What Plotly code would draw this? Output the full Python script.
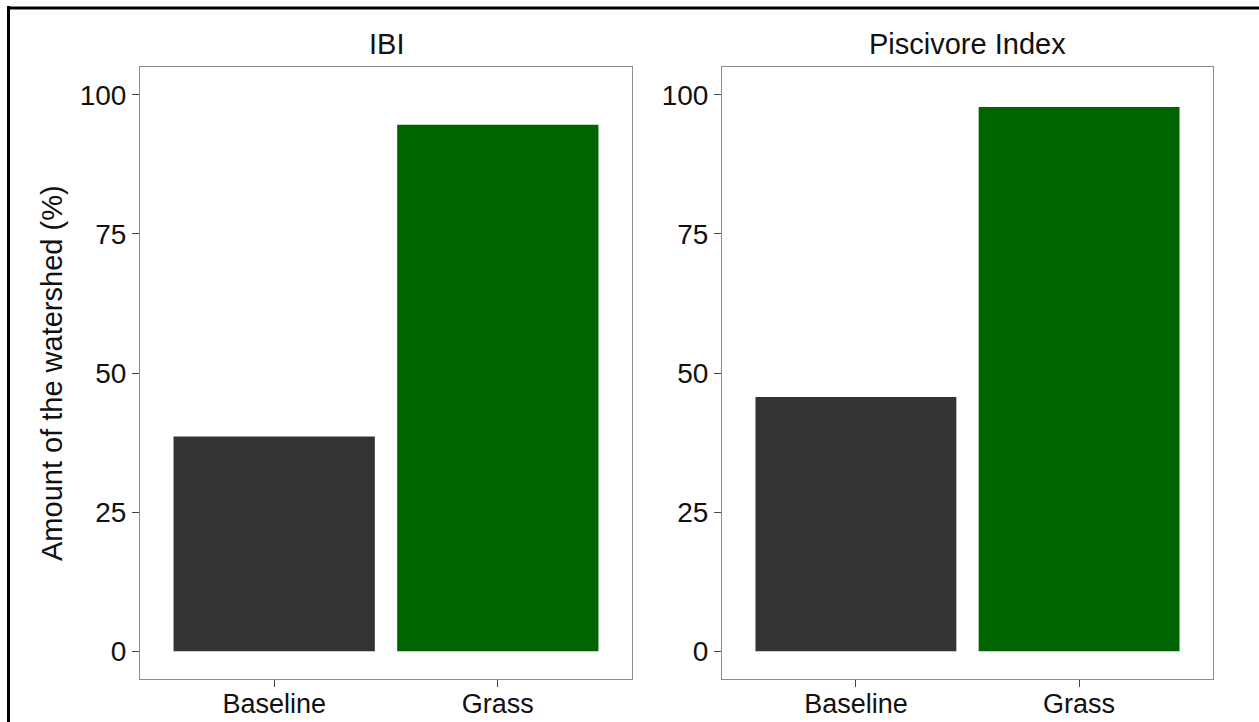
import plotly.graph_objects as go

# ---- data ----
categories = ["Baseline", "Grass"]
panel_titles = ["IBI", "Piscivore Index"]
ibi_values = [38.6, 94.6]
piscivore_values = [45.7, 97.8]
bar_colors = ["#333333", "#006400"]
y_ticks = [0, 25, 50, 75, 100]
y_title = "Amount of the watershed (%)"

W, H = 1259, 722
FONT = "Liberation Sans, Arial, sans-serif"
FS_TICK = 28
FS_XTICK = 27
FS_TITLE = 29


def px_x(p):
    return p / W


def px_y(p):
    return 1 - p / H


fig = go.Figure()
for i, vals in enumerate([ibi_values, piscivore_values]):
    fig.add_trace(go.Bar(
        x=categories, y=vals, marker_color=bar_colors, marker_line_width=0,
        width=0.9, xaxis="x" if i == 0 else "x2", yaxis="y" if i == 0 else "y2",
        showlegend=False, hoverinfo="x+y",
    ))

ydom = [px_y(679), px_y(67)]
xdoms = [[px_x(140), px_x(632)], [px_x(722), px_x(1213)]]

axis_common = dict(
    showline=True, linecolor="#8c8c8c", linewidth=1, mirror=True,
    ticks="outside", ticklen=7, tickwidth=1, tickcolor="#444444",
    showgrid=False, zeroline=False, automargin=False,
    tickfont=dict(family=FONT, size=FS_TICK, color="#111111"),
)

layout = dict(
    width=W, height=H,
    margin=dict(l=0, r=0, t=0, b=0),
    paper_bgcolor="white", plot_bgcolor="white",
    font=dict(family=FONT, size=FS_TICK, color="#111111"),
    bargap=0.1,
)
for i in range(2):
    xs = "" if i == 0 else "2"
    layout["xaxis" + xs] = dict(
        axis_common, domain=xdoms[i], anchor="y" + xs,
        type="category", range=[-0.6, 1.6], fixedrange=True,
        tickfont=dict(family=FONT, size=FS_XTICK, color="#111111"),
        ticklabelstandoff=-6,
    )
    layout["yaxis" + xs] = dict(
        axis_common, domain=ydom, anchor="x" + xs,
        range=[-5, 105], tickvals=y_ticks, ticktext=[str(t) for t in y_ticks],
        fixedrange=True,
    )

fig.update_layout(**layout)

annotations = []
for i, t in enumerate(panel_titles):
    cx = (xdoms[i][0] + xdoms[i][1]) / 2
    annotations.append(dict(
        text=t, x=cx, y=px_y(44), xref="paper", yref="paper",
        showarrow=False, xanchor="center", yanchor="middle",
        font=dict(family=FONT, size=FS_TITLE, color="#111111"),
    ))
annotations.append(dict(
    text=y_title, x=px_x(52), y=(ydom[0] + ydom[1]) / 2, xref="paper", yref="paper",
    showarrow=False, xanchor="center", yanchor="middle", textangle=-90,
    font=dict(family=FONT, size=FS_TITLE, color="#111111"),
))
fig.update_layout(annotations=annotations)

# outer frame (left and top edges visible in the crop)
fig.add_shape(type="line", xref="paper", yref="paper",
              x0=px_x(8.5), x1=px_x(8.5), y0=px_y(6), y1=0,
              line=dict(color="black", width=3))
fig.add_shape(type="line", xref="paper", yref="paper",
              x0=px_x(7), x1=1, y0=px_y(8), y1=px_y(8),
              line=dict(color="black", width=3))

fig.write_html(
    "out.html",
    config={"displayModeBar": False},
    post_script="document.body.style.margin='0';document.body.style.overflow='hidden';",
)
